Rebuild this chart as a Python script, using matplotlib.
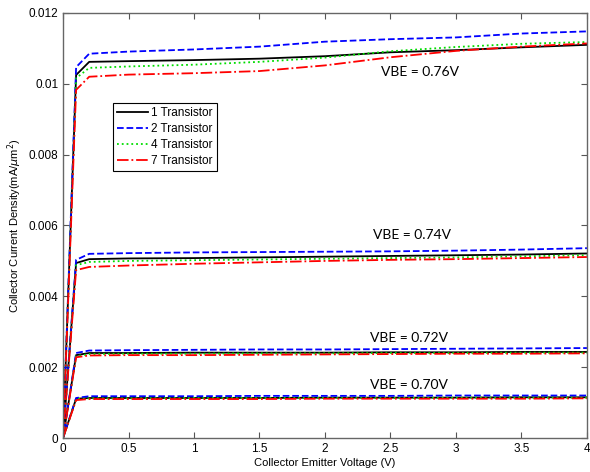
import matplotlib
matplotlib.use('Agg')
import matplotlib.pyplot as plt

# collector-emitter voltage sample points (V)
vce = [0, 0.1, 0.2, 0.5, 1.0, 1.5, 2.0, 2.5, 3.0, 3.5, 4.0]

# current density (mA/um^2) per VBE, per transistor count
j76_t1 = [0, 0.01025, 0.01062, 0.01064, 0.01067, 0.01071, 0.01078, 0.01089, 0.01095, 0.01103, 0.01110]
j76_t2 = [0, 0.01047, 0.01085, 0.01091, 0.01097, 0.01105, 0.01119, 0.01126, 0.01131, 0.01142, 0.01148]
j76_t4 = [0, 0.01016, 0.01045, 0.01049, 0.01054, 0.01062, 0.01074, 0.01092, 0.01104, 0.01113, 0.01118]
j76_t7 = [0, 0.00983, 0.01020, 0.01026, 0.01030, 0.01036, 0.01052, 0.01075, 0.01093, 0.01105, 0.01114]

j74_t1 = [0, 0.00494, 0.00505, 0.00507, 0.00508, 0.00510, 0.00512, 0.00514, 0.00516, 0.00518, 0.00521]
j74_t2 = [0, 0.00503, 0.00520, 0.00522, 0.00524, 0.00525, 0.00526, 0.00527, 0.00529, 0.00532, 0.00536]
j74_t4 = [0, 0.00488, 0.00497, 0.00500, 0.00502, 0.00504, 0.00506, 0.00508, 0.00510, 0.00513, 0.00516]
j74_t7 = [0, 0.00474, 0.00483, 0.00487, 0.00492, 0.00496, 0.00500, 0.00503, 0.00505, 0.00508, 0.00511]

j72_t1 = [0, 0.00234, 0.00240, 0.00240, 0.00241, 0.00241, 0.00241, 0.00242, 0.00242, 0.00243, 0.00243]
j72_t2 = [0, 0.00240, 0.00247, 0.00248, 0.00249, 0.00250, 0.00250, 0.00251, 0.00252, 0.00253, 0.00254]
j72_t4 = [0, 0.00231, 0.00237, 0.00238, 0.00238, 0.00239, 0.00239, 0.00240, 0.00240, 0.00241, 0.00241]
j72_t7 = [0, 0.00228, 0.00233, 0.00234, 0.00234, 0.00235, 0.00236, 0.00237, 0.00238, 0.00238, 0.00239]

j70_t1 = [0, 0.00111, 0.00113, 0.00113, 0.00113, 0.00113, 0.00114, 0.00114, 0.00114, 0.00115, 0.00115]
j70_t2 = [0, 0.00113, 0.00118, 0.00118, 0.00118, 0.00119, 0.00119, 0.00119, 0.00120, 0.00120, 0.00120]
j70_t4 = [0, 0.00110, 0.00112, 0.00112, 0.00113, 0.00113, 0.00113, 0.00113, 0.00114, 0.00114, 0.00114]
j70_t7 = [0, 0.00107, 0.00110, 0.00110, 0.00110, 0.00110, 0.00111, 0.00111, 0.00111, 0.00111, 0.00112]

series_names = ['1 Transistor', '2 Transistor', '4 Transistor', '7 Transistor']
vbe_labels = ['VBE = 0.76V', 'VBE = 0.74V', 'VBE = 0.72V', 'VBE = 0.70V']
label_pos = [(2.43, 0.01033), (2.37, 0.00573), (2.34, 0.00282), (2.34, 0.00150)]

groups = [
    [j76_t1, j76_t2, j76_t4, j76_t7],
    [j74_t1, j74_t2, j74_t4, j74_t7],
    [j72_t1, j72_t2, j72_t4, j72_t7],
    [j70_t1, j70_t2, j70_t4, j70_t7],
]
styles = [('k', '-'), ('#0000ff', '--'), ('#00dd00', ':'), ('#ff0000', '-.')]

plt.rcParams['font.family'] = ['Liberation Sans', 'DejaVu Sans']

fig = plt.figure(figsize=(5.9, 4.72), dpi=100)
ax = fig.add_axes([0.1068, 0.072, 0.888, 0.9005])

for g, group in enumerate(groups):
    for i, ys in enumerate(group):
        col, ls = styles[i]
        ax.plot(vce, ys, color=col, linestyle=ls, linewidth=1.3,
                label=series_names[i] if g == 0 else None)

for txt, (x, y) in zip(vbe_labels, label_pos):
    ax.text(x, y, txt, fontsize=10, family=['Lato', 'DejaVu Sans'], va='center', ha='left')

ax.set_xlim(0, 4)
ax.set_ylim(0, 0.012)
ax.set_xticks([0, 0.5, 1, 1.5, 2, 2.5, 3, 3.5, 4])
ax.set_xticklabels(['0', '0.5', '1', '1.5', '2', '2.5', '3', '3.5', '4'])
ax.set_yticks([0, 0.002, 0.004, 0.006, 0.008, 0.01, 0.012])
ax.set_yticklabels(['0', '0.002', '0.004', '0.006', '0.008', '0.01', '0.012'])
ax.tick_params(direction='in', top=True, right=True, labelsize=8.5, length=4, width=0.8,
               colors='#555555', labelcolor='black')
for s in ax.spines.values():
    s.set_color('#666666')
    s.set_linewidth(1.0)

ax.set_xlabel('Collector Emitter Voltage (V)', fontsize=8, labelpad=2)
ax.set_ylabel(r'Collector Current Density(mA/$\mu$m$^2$)', fontsize=8, labelpad=3)

leg = ax.legend(loc='upper left', bbox_to_anchor=(0.095, 0.788), borderaxespad=0,
                fontsize=8.5, fancybox=False, framealpha=1, edgecolor='black',
                handlelength=2.6, borderpad=0.35, labelspacing=0.33, handletextpad=0.3)
leg.get_frame().set_linewidth(0.8)

fig.savefig('out.png', dpi=100)
